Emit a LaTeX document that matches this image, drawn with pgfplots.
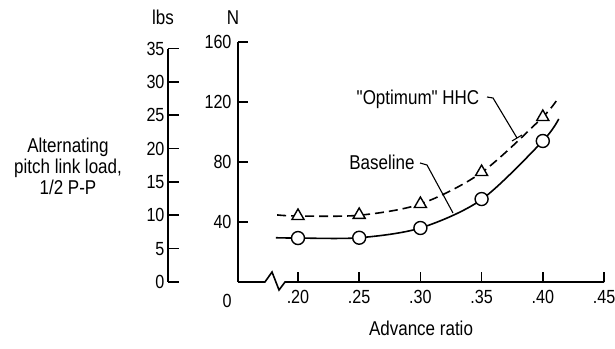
\documentclass[border=0pt]{standalone}
\usepackage{fontspec}
\setmainfont{Liberation Sans}[FakeStretch=0.85]
\newfontfamily\plainfont{Liberation Sans}[FakeStretch=0.85]
\usepackage{pgfplots}
\pgfplotsset{compat=1.18}
\begin{document}
\begin{tikzpicture}[x=1pt,y=1pt,font=\fontsize{20}{21}\selectfont]
% main axis (N)
\begin{axis}[
  at={(238pt,66pt)}, anchor=south west,
  scale only axis, width=366pt, height=240pt,
  xmin=0.151, xmax=0.45, ymin=0, ymax=160,
  axis lines*=left,
  axis line style={-, line width=1.6pt},
  x axis line style={draw=none},
  xtick={0.20,0.25,0.30,0.35,0.40,0.45},
  xticklabels={.20,.25,.30,.35,.40,.45},
  ytick={40,80,120,160},
  tick align=inside, major tick length=10pt,
  tick style={line width=1.6pt, black},
  /pgf/number format/assume math mode=true,
  ticklabel style={font=\fontsize{19}{20}\selectfont},
  xticklabel style={yshift=-5pt},
  yticklabel style={xshift=-3pt},
  clip=false,
]
% broken x-axis line
\draw[line width=1.6pt, line join=miter] (axis cs:0.151,0) -- (axis cs:0.1730,0) -- (axis cs:0.1788,6.67) -- (axis cs:0.1845,-5.33) -- (axis cs:0.1894,0) -- (axis cs:0.45,0);
% Optimum HHC curve
\addplot[line width=1.6pt, smooth, dash pattern=on 9pt off 5pt] coordinates {
  (0.183,44.7) (0.20,44) (0.25,44.5) (0.30,52) (0.35,73) (0.40,110) (0.413,123.3)};
% Baseline curve
\addplot[line width=1.6pt, smooth] coordinates {
  (0.182,29.5) (0.20,29.3) (0.25,29.5) (0.30,36) (0.35,55) (0.40,94) (0.413,108.7)};
\addplot[only marks, mark=triangle*, mark size=7pt, mark options={fill=white, line width=1.4pt, solid}] coordinates {
  (0.20,44) (0.25,44.7) (0.30,52) (0.35,73.3) (0.40,110)};
\addplot[only marks, mark=*, mark size=6.5pt, mark options={fill=white, line width=1.4pt}] coordinates {
  (0.20,29.3) (0.25,29.5) (0.30,36) (0.35,55.3) (0.40,94)};
\end{axis}
% lbs axis
\begin{axis}[
  at={(168pt,66pt)}, anchor=south west,
  scale only axis, width=10pt, height=233.5pt,
  xmin=0, xmax=1, ymin=0, ymax=35,
  axis y line*=left, axis x line=none,
  axis line style={-, line width=1.6pt},
  ytick={0,5,10,15,20,25,30,35},
  tick align=inside, major tick length=11pt,
  tick style={line width=1.6pt, black},
  /pgf/number format/assume math mode=true,
  ticklabel style={font=\fontsize{19}{20}\selectfont},
]
\addplot[draw=none] coordinates {(0,0)};
\end{axis}
% labels
\node[anchor=base] at (163,323) {lbs};
\node[anchor=base] at (233,323) {N};
\node[anchor=base,font=\fontsize{19}{20}\selectfont] at (227,41) {0};
\node[anchor=base] at (421,13) {Advance ratio};
\node[align=center] at (68,182) {Alternating\\pitch link load,\\1/2 P-P};
\node[anchor=base] at (418,243) {\plainfont "Optimum" HHC};
\draw[line width=1.1pt] (487,251) -- (493,250) -- (517,210);
\draw[line width=1.1pt] (512,207) -- (522,213);
\node[anchor=base] at (382,178) {Baseline};
\draw[line width=1.1pt] (420,185) -- (427,183) -- (453,135);
\pgfresetboundingbox
\path[use as bounding box] (0,0) rectangle (615,348);
\end{tikzpicture}
\end{document}
